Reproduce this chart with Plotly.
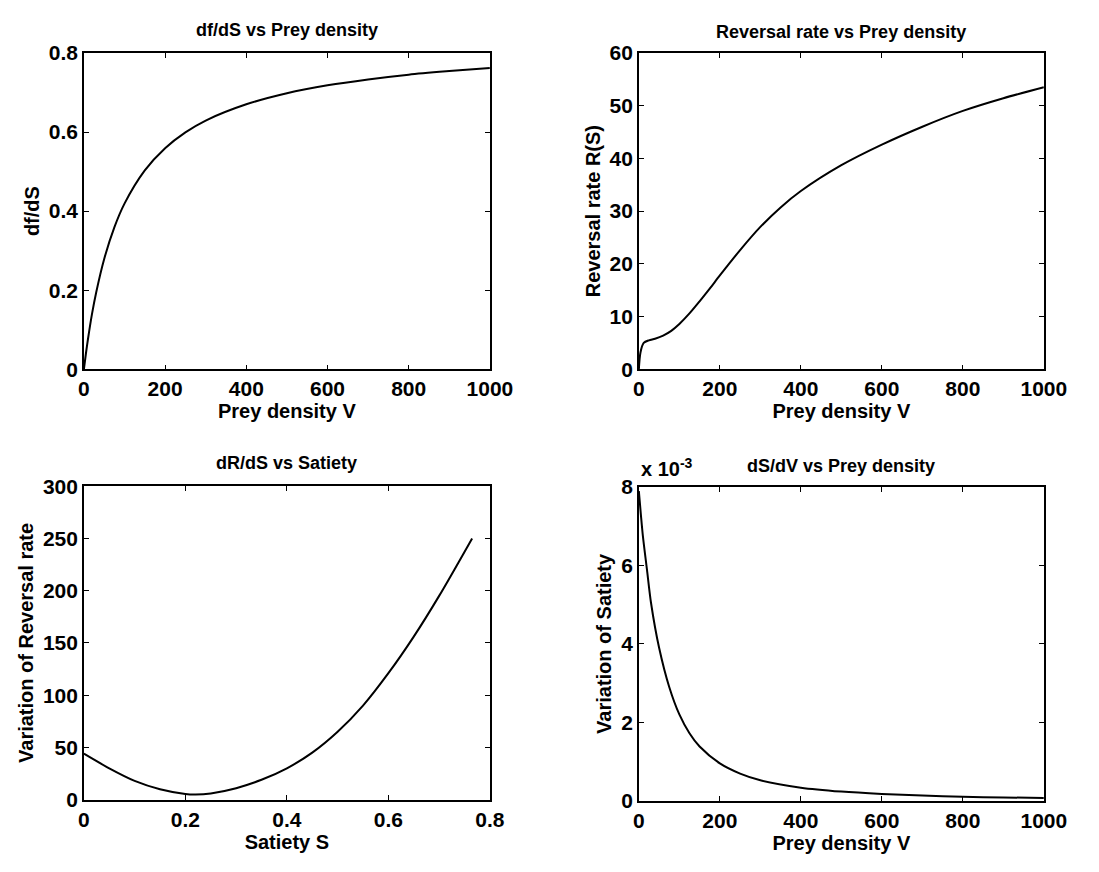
import plotly.graph_objects as go

# ---- df/dS against prey density ----
prey_v_a = [0, 5, 10, 20, 30, 50, 75, 100, 150, 200, 250, 300, 400, 500, 600, 700, 800, 900, 1000]
dfds = [0, 0.040, 0.076, 0.140, 0.193, 0.279, 0.359, 0.419, 0.503, 0.559, 0.599, 0.629,
        0.670, 0.698, 0.718, 0.733, 0.745, 0.754, 0.762]

# ---- reversal rate R(S) against prey density ----
prey_v_b = [0, 4, 12, 25, 40, 60, 80, 100, 125, 150, 175, 200, 250, 300, 350, 400, 500,
            600, 700, 800, 900, 1000]
reversal_rate = [0, 3.2, 5.0, 5.5, 5.8, 6.4, 7.3, 8.6, 10.6, 12.9, 15.3, 17.8, 22.6, 27.0,
                 30.7, 33.8, 38.7, 42.6, 46.0, 49.0, 51.4, 53.5]

# ---- dR/dS against satiety ----
satiety = [0, 0.05, 0.1, 0.15, 0.2, 0.22, 0.25, 0.3, 0.35, 0.4, 0.45, 0.5, 0.55, 0.6,
           0.65, 0.7, 0.765]
drds = [44, 30, 18, 10, 5.5, 5.0, 6.0, 11, 19, 30, 45, 65, 90, 121, 156, 195, 250]

# ---- dS/dV against prey density ----
prey_v_c = [0, 5, 10, 20, 30, 50, 75, 100, 125, 150, 200, 250, 300, 400, 500, 600, 700, 800,
            900, 1000]
dsdv = [7.9e-3, 7.3e-3, 6.75e-3, 5.9e-3, 5.05e-3, 3.9e-3, 2.9e-3, 2.2e-3, 1.72e-3, 1.38e-3,
        0.95e-3, 0.69e-3, 0.52e-3, 0.33e-3, 0.23e-3, 0.17e-3, 0.13e-3, 0.10e-3, 0.08e-3, 0.07e-3]

W, H = 1099, 872
FONT = "Liberation Sans, Arial, Helvetica, sans-serif"


def px(x):
    return x / W


def py(y):
    return 1 - y / H


# plot boxes in pixels: (left, right, top, bottom)
boxes = {
    "": (80, 497, 42, 367),
    "2": (650, 1066, 42, 367),
    "3": (80, 497, 487, 809),
    "4": (650, 1066, 488, 810),
}

fig = go.Figure()
line = dict(color="black", width=2, shape="spline", smoothing=0.8)
fig.add_trace(go.Scatter(x=prey_v_a, y=dfds, mode="lines", line=line, xaxis="x", yaxis="y"))
fig.add_trace(go.Scatter(x=prey_v_b, y=reversal_rate, mode="lines", line=line, xaxis="x2", yaxis="y2"))
fig.add_trace(go.Scatter(x=satiety, y=drds, mode="lines", line=line, xaxis="x3", yaxis="y3"))
fig.add_trace(go.Scatter(x=prey_v_c, y=dsdv, mode="lines", line=line, xaxis="x4", yaxis="y4"))

tick_font = dict(family=FONT, size=21, color="black", weight="bold")
label_font = dict(family=FONT, size=20, color="black", weight="bold")
title_font = dict(family=FONT, size=18, color="black", weight="bold")

axis_common = dict(
    showline=True, linecolor="black", linewidth=1.5, mirror="ticks",
    ticks="inside", ticklen=5, tickwidth=1.2, tickcolor="black",
    showgrid=False, zeroline=False, tickfont=tick_font,
)

specs = {
    "": dict(xr=[0, 1000], xd=200, yr=[0, 0.8], yd=0.2, xt="Prey density V", yt="df/dS",
             title="df/dS vs Prey density", ty=19),
    "2": dict(xr=[0, 1000], xd=200, yr=[0, 60], yd=10, xt="Prey density V", yt="Reversal rate R(S)",
              title="Reversal rate vs Prey density", ty=21),
    "3": dict(xr=[0, 0.8], xd=0.2, yr=[0, 300], yd=50, xt="Satiety S", yt="Variation of Reversal rate",
              title="dR/dS vs Satiety", ty=463),
    "4": dict(xr=[0, 1000], xd=200, yr=[0, 0.008], yd=0.002, xt="Prey density V", yt="Variation of Satiety",
              title="dS/dV vs Prey density", ty=466),
}

layout = {}
annotations = []
for k, s in specs.items():
    l, r, t, b = boxes[k]
    xa = dict(axis_common, domain=[px(l), px(r)], range=s["xr"], dtick=s["xd"], tick0=0,
              anchor="y" + k,
              title=dict(text=s["xt"], font=label_font, standoff=0))
    ya = dict(axis_common, domain=[py(b), py(t)], range=s["yr"], dtick=s["yd"], tick0=0,
              anchor="x" + k,
              title=dict(text=s["yt"], font=label_font, standoff=4))
    if k == "4":
        ya["tickvals"] = [0, 0.002, 0.004, 0.006, 0.008]
        ya["ticktext"] = ["0", "2", "4", "6", "8"]
    layout["xaxis" + k] = xa
    layout["yaxis" + k] = ya
    annotations.append(dict(
        text=s["title"], x=px((l + r) / 2), y=py(s["ty"]), xref="paper", yref="paper",
        showarrow=False, font=title_font, xanchor="center", yanchor="middle",
    ))

# exponent note for the dS/dV axis
annotations.append(dict(
    text="x 10<sup>-3</sup>", x=px(650), y=py(468), xref="paper", yref="paper",
    showarrow=False, font=dict(family=FONT, size=20, color="black", weight="bold"),
    xanchor="left", yanchor="middle",
))

fig.update_layout(
    **layout,
    annotations=annotations,
    width=W, height=H,
    margin=dict(l=0, r=0, t=0, b=0),
    paper_bgcolor="white", plot_bgcolor="white",
    showlegend=False,
    font=dict(family=FONT, color="black"),
)

fig.write_html("out.html")
